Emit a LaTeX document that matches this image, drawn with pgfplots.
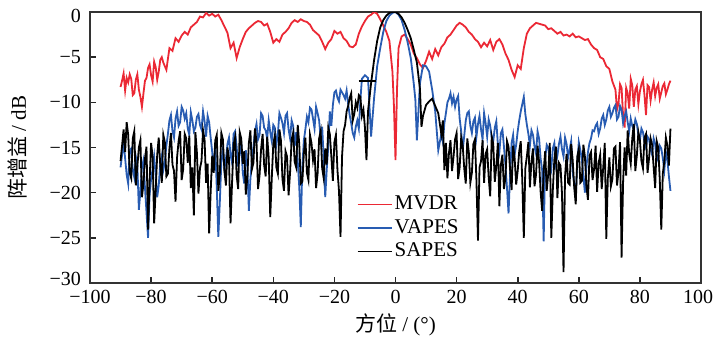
\documentclass[border=0pt]{standalone}
\usepackage{pgfplots}
\pgfplotsset{compat=1.18}
\usepackage{fontspec}
\setmainfont{Liberation Serif}
\newfontfamily\cjk{Noto Sans CJK SC}
\definecolor{mred}{RGB}{235,40,52}
\definecolor{mblue}{RGB}{40,92,178}
\begin{document}
\begin{tikzpicture}
\path[use as bounding box] (-45pt,-28pt) rectangle (311.5pt,141.5pt);
\begin{axis}[
 at={(0pt,0pt)}, anchor=south west,
 scale only axis, width=305.5pt, height=135.5pt,
 xmin=-100, xmax=100, ymin=-30, ymax=0,
 xtick={-100,-80,...,100}, ytick={-30,-25,...,0},
 xticklabels={−100,−80,−60,−40,−20,0,20,40,60,80,\makebox[12pt][r]{100}},
 yticklabels={\raisebox{2pt}[6.6pt][0pt]{−30},−25,−20,−15,−10,−5,\raisebox{-2pt}[6.6pt][0pt]{0}},
 tick align=inside, tick pos=left,
 major tick length=3pt,
 tick style={black!85, line width=0.8pt},
 axis line style={black!80, line width=0.8pt},
 ticklabel style={font=\fontsize{10}{12}\selectfont},
 xticklabel style={inner xsep=0pt},
 yticklabel style={xshift=-1pt},
 xlabel={{\cjk 方位} / (°)},
 ylabel={{\cjk 阵增益} / dB},
 label style={font=\fontsize{10.5}{12}\selectfont},
 xlabel style={at={(axis description cs:0.5,-0.155)}, anchor=center},
 ylabel style={at={(axis description cs:-0.118,0.5)}, anchor=center},
 legend style={draw=none, fill=none, inner sep=0pt, at={(axis cs:-12.8,-20.1)}, anchor=north west,
   font=\fontsize{10.5}{12}\selectfont, row sep=1.25pt,
   nodes={inner sep=1pt, text height=7pt, text depth=1.5pt}},
 legend cell align=left,
]
\addplot[mred, line width=0.9pt] coordinates {
(-90,-8.3) (-89.5,-7.6) (-89,-6.8) (-88.5,-8.7) (-88,-7.3) (-87.5,-7.8) (-87,-6.9) (-86.5,-7.4) (-86,-9.2) (-85.5,-9.0)
(-85,-7.5) (-84.5,-6.9) (-84,-8.6) (-83.5,-9.4) (-83,-10.5) (-82.5,-9.0) (-82,-7.6) (-81.5,-7.3) (-81,-6.2) (-80.5,-5.8)
(-80,-7.0) (-79.5,-7.7) (-79,-5.5) (-78.5,-6.1) (-78,-7.5) (-77.5,-6.6) (-77,-5.3) (-76.5,-5.0) (-76,-5.6) (-75.5,-6.0)
(-75,-6.4) (-74.5,-5.2) (-74,-4.0) (-73,-4.3) (-72,-2.9) (-71,-3.3)
(-70,-2.6) (-69,-2.2) (-68,-2.5) (-67,-1.7) (-66,-1.4) (-65,-1.1) (-64,-0.5) (-63,-0.6) (-62,-0.1) (-61,-0.4)
(-60,-0.2) (-59,-0.5) (-58,-0.3) (-57,-0.9) (-56,-1.6) (-55,-2.3) (-54,-4.0) (-53,-3.4) (-52,-5.1) (-51,-3.9)
(-50,-3.0) (-49,-2.2) (-48,-1.8) (-47,-1.5) (-46,-1.2) (-45,-1.0) (-44,-1.1) (-43,-1.5) (-42,-1.3) (-41,-2.2)
(-40,-3.4) (-39,-3.0) (-38,-3.3) (-37,-2.5) (-36,-2.2) (-35,-1.8) (-34,-1.2) (-33,-0.9) (-32,-1.1) (-31,-0.8)
(-30,-1.0) (-29,-1.1) (-28,-1.4) (-27,-2.0) (-26,-2.3) (-25,-2.6) (-24,-3.3) (-23,-4.1) (-22,-3.4) (-21,-3.0)
(-20,-2.1) (-19,-2.4) (-18,-2.2) (-17,-2.9) (-16,-3.2) (-15,-3.8) (-14,-3.9) (-13,-3.6) (-12,-2.4) (-11,-1.6)
(-10,-1.0) (-9,-0.5) (-8,-0.3) (-7,0.0) (-6,-0.2) (-5,-0.8) (-4,-1.5) (-3,-2.2) (-2,-3.2) (-1,-6.6)
(-0.5,-10.5) (0,-16.4) (0.5,-8.5) (1,-4.0) (2,-2.7) (3,-2.5) (4,-3.0) (5,-3.6) (6,-4.6) (7,-5.1)
(8,-5.8) (9,-6.2) (10,-5.4) (11,-4.4) (12,-5.2) (13,-4.1) (14,-4.8) (15,-3.9) (16,-3.5) (17,-2.8)
(18,-2.5) (19,-2.0) (20,-1.5) (21,-1.2) (22,-1.4) (23,-1.7) (24,-2.2) (25,-2.5) (26,-3.0) (27,-3.3)
(28,-3.9) (29,-3.4) (30,-3.8) (31,-3.1) (32,-4.2) (33,-3.3) (34,-3.0) (35,-3.6) (36,-4.6) (37,-5.3)
(38,-6.4) (39,-7.2) (40,-5.9) (41,-6.3) (42,-4.0) (43,-2.4) (44,-1.8) (45,-1.5) (46,-1.2) (47,-1.3)
(48,-1.4) (49,-1.5) (50,-1.9) (51,-1.8) (52,-2.1) (53,-2.4) (54,-2.2) (55,-2.6) (56,-2.5) (57,-2.7)
(58,-2.4) (59,-2.8) (60,-2.7) (61,-2.9) (62,-3.1) (63,-3.0) (64,-3.6) (65,-4.0) (66,-4.2) (67,-5.0)
(68,-5.2) (69,-6.0) (70,-6.3) (71,-7.7) (72,-8.6) (72.5,-10.8) (73,-10.1) (73.5,-8.0) (74,-8.4) (74.5,-11.5)
(75,-12.8) (75.5,-8.4) (76,-9.0) (76.5,-10.7) (77,-7.4) (77.5,-8.1) (78,-10.5) (78.5,-8.6) (79,-8.2) (79.5,-10.2)
(80,-8.8) (80.5,-8.0) (81,-7.5) (81.5,-9.2) (82,-11.4) (82.5,-8.1) (83,-8.3) (83.5,-9.8) (84,-8.6) (84.5,-7.8)
(85,-9.3) (85.5,-8.4) (86,-8.0) (86.5,-9.6) (87,-8.9) (87.5,-8.2) (88,-7.9) (88.5,-9.1) (89,-8.6) (89.5,-8.0) (90,-7.6)
};
\addlegendentry{MVDR}
\addplot[mblue, line width=0.9pt] coordinates {
(-90,-17.2) (-89.5,-15.8) (-89,-14.5) (-88.5,-16.2) (-88,-18.0) (-87.5,-19.0) (-87,-15.3) (-86.5,-15.1) (-86,-17.5) (-85.5,-18.3)
(-85,-16.0) (-84.5,-17.0) (-84,-21.9) (-83.5,-19.8) (-83,-17.2) (-82.5,-16.4) (-82,-19.5) (-81.5,-22.2) (-81,-25.0) (-80.5,-20.3)
(-80,-18.5) (-79.5,-17.4) (-79,-16.0) (-78.5,-18.1) (-78,-20.5) (-77.5,-19.2) (-77,-16.8) (-76.5,-15.9) (-76,-17.5) (-75.5,-16.6)
(-75,-14.8) (-74.5,-13.5) (-74,-12.0) (-73.5,-11.4) (-73,-13.2) (-72.5,-13.9) (-72,-11.8) (-71.5,-11.0) (-71,-12.6) (-70.5,-12.2)
(-70,-10.5) (-69.5,-10.9) (-69,-11.8) (-68.5,-11.2) (-68,-12.9) (-67.5,-13.6) (-67,-11.1) (-66.5,-12.0) (-66,-13.2) (-65.5,-12.8)
(-65,-11.6) (-64.5,-11.3) (-64,-12.5) (-63.5,-13.0) (-63,-11.0) (-62.5,-12.1) (-62,-13.8) (-61.5,-11.5) (-61,-12.2) (-60.5,-13.9)
(-60,-15.5) (-59.5,-17.6) (-59,-14.8) (-58.5,-19.5) (-58,-24.9) (-57.5,-21.0) (-57,-16.5) (-56.5,-15.2) (-56,-17.4) (-55.5,-16.3)
(-55,-14.6) (-54.5,-13.9) (-54,-15.8) (-53.5,-16.7) (-53,-13.5) (-52.5,-13.2) (-52,-14.9) (-51.5,-17.1) (-51,-15.6) (-50.5,-14.4)
(-50,-17.8) (-49.5,-19.0) (-49,-15.3) (-48.5,-16.9) (-48,-22.0) (-47.5,-18.5) (-47,-16.4) (-46.5,-14.9) (-46,-13.2) (-45.5,-12.4)
(-45,-14.1) (-44.5,-13.6) (-44,-11.2) (-43.5,-11.5) (-43,-12.8) (-42.5,-13.1) (-42,-14.0) (-41.5,-12.0) (-41,-13.3) (-40.5,-14.3)
(-40,-12.5) (-39.5,-12.8) (-39,-14.7) (-38.5,-13.5) (-38,-11.2) (-37.5,-11.7) (-37,-12.3) (-36.5,-13.4) (-36,-11.5) (-35.5,-11.2)
(-35,-13.0) (-34.5,-14.0) (-34,-12.0) (-33.5,-12.6) (-33,-14.8) (-32.5,-13.3) (-32,-16.5) (-31.5,-19.4) (-31,-23.8) (-30.5,-17.2)
(-30,-14.2) (-29.5,-13.0) (-29,-11.6) (-28.5,-12.2) (-28,-10.6) (-27.5,-10.8) (-27,-11.8) (-26.5,-12.9) (-26,-10.5) (-25.5,-11.2)
(-25,-12.0) (-24.5,-14.0) (-24,-12.7) (-23.5,-16.2) (-23,-20.5) (-22.5,-17.4) (-22,-14.8) (-21.5,-11.0) (-21,-12.6) (-20.5,-10.3)
(-20,-8.9) (-19.5,-8.7) (-19,-9.5) (-18.5,-9.9) (-18,-8.6) (-17.5,-8.9) (-17,-9.2) (-16.5,-9.6) (-16,-8.7) (-15.5,-10.2)
(-15,-11.4) (-14.5,-12.3) (-14,-13.4) (-13.5,-13.9) (-13,-12.7) (-12.5,-12.0) (-12,-12.9) (-11.5,-9.8) (-11,-7.4)
(-10,-7.0) (-9,-7.3) (-8,-13.8) (-7,-9.5) (-6,-6.0) (-5,-4.0) (-4,-2.2) (-3,-1.0) (-2,-0.4) (-1,-0.1)
(0,0.0) (1,-0.3) (2,-0.9) (3,-2.0) (4,-3.4) (5,-5.1) (6,-8.0) (6.5,-9.7) (7,-14.2) (8,-7.9)
(9,-5.9) (10,-6.0) (11,-6.6) (12,-8.6) (13,-11.0) (14,-15.3) (15,-13.5) (15.5,-14.4) (16,-12.3) (16.5,-11.2)
(17,-10.0) (17.5,-9.6) (18,-9.0) (18.5,-10.1) (19,-9.4) (19.5,-10.5) (20,-9.7) (20.5,-9.3) (21,-11.8) (21.5,-13.2)
(22,-15.3) (22.5,-13.7) (23,-12.0) (23.5,-11.2) (24,-11.0) (24.5,-12.6) (25,-13.4) (25.5,-12.1) (26,-11.7) (26.5,-13.8)
(27,-12.4) (27.5,-11.5) (28,-13.0) (28.5,-14.1) (29,-11.2) (29.5,-12.3) (30,-13.8) (30.5,-11.9) (31,-12.6) (31.5,-13.9)
(32,-14.3) (32.5,-12.8) (33,-12.1) (33.5,-14.6) (34,-15.5) (34.5,-13.4) (35,-13.0) (35.5,-14.9) (36,-17.0) (36.5,-19.5)
(37,-22.3) (37.5,-18.0) (38,-14.5) (38.5,-13.6) (39,-15.8) (39.5,-14.7) (40,-13.2) (40.5,-12.0) (41,-11.0) (41.5,-10.2)
(42,-9.4) (42.5,-11.3) (43,-12.5) (43.5,-13.5) (44,-14.8) (44.5,-13.1) (45,-13.6) (45.5,-14.9) (46,-15.7) (46.5,-13.2)
(47,-14.0) (47.5,-16.2) (48,-17.5) (48.5,-25.4) (49,-16.2) (49.5,-14.7) (50,-15.0) (50.5,-16.4) (51,-17.3) (51.5,-15.1)
(52,-14.5) (52.5,-16.8) (53,-15.9) (53.5,-14.6) (54,-13.8) (54.5,-15.2) (55,-16.0) (55.5,-13.9) (56,-14.6) (56.5,-16.1)
(57,-15.2) (57.5,-14.3) (58,-17.8) (58.5,-19.0) (59,-20.5) (59.5,-16.8) (60,-14.4) (60.5,-15.3) (61,-16.3) (61.5,-18.2)
(62,-20.0) (62.5,-17.1) (63,-15.5) (63.5,-14.5) (64,-14.0) (64.5,-13.1) (65,-13.2) (65.5,-12.6) (66,-12.3) (66.5,-13.5)
(67,-12.9) (67.5,-11.8) (68,-11.4) (68.5,-12.5) (69,-11.9) (69.5,-10.9) (70,-10.5) (70.5,-11.6) (71,-11.2) (71.5,-10.6)
(72,-10.3) (72.5,-11.9) (73,-11.6) (73.5,-10.4) (74,-10.8) (74.5,-12.3) (75,-11.5) (75.5,-11.0) (76,-12.2) (76.5,-13.2)
(77,-11.8) (77.5,-12.6) (78,-13.0) (78.5,-11.9) (79,-12.4) (79.5,-13.6) (80,-14.2) (80.5,-12.9) (81,-13.3) (81.5,-14.4)
(82,-15.0) (82.5,-13.8) (83,-14.1) (83.5,-15.2) (84,-15.8) (84.5,-14.0) (85,-14.6) (85.5,-16.5) (86,-16.0) (86.5,-14.8)
(87,-15.1) (87.5,-16.2) (88,-17.5) (88.5,-15.5) (89,-16.4) (89.5,-18.2) (90,-19.8)
};
\addlegendentry{VAPES}
\addplot[black, line width=0.9pt] coordinates {
(-90,-16.5) (-89.5,-14.8) (-89,-13.0) (-88.5,-15.5) (-88,-12.2) (-87.5,-13.6) (-87,-17.8) (-86.5,-18.4) (-86,-14.0) (-85.5,-13.2)
(-85,-19.2) (-84.5,-17.1) (-84,-15.0) (-83.5,-14.2) (-83,-20.5) (-82.5,-19.0) (-82,-16.2) (-81.5,-14.9) (-81,-24.1) (-80.5,-18.8)
(-80,-14.5) (-79.5,-16.0) (-79,-23.4) (-78.5,-19.7) (-78,-15.8) (-77.5,-13.9) (-77,-17.0) (-76.5,-18.9) (-76,-13.6) (-75.5,-14.4)
(-75,-18.2) (-74.5,-17.9) (-74,-15.1) (-73.5,-13.4) (-73,-16.9) (-72.5,-17.6) (-72,-21.0) (-71.5,-16.1) (-71,-14.3) (-70.5,-13.2)
(-70,-18.6) (-69.5,-17.4) (-69,-13.5) (-68.5,-14.0) (-68,-16.7) (-67.5,-13.7) (-67,-19.5) (-66.5,-17.2) (-66,-22.5) (-65.5,-13.3)
(-65,-15.6) (-64.5,-20.1) (-64,-17.3) (-63.5,-16.5) (-63,-13.1) (-62.5,-14.1) (-62,-18.9) (-61.5,-16.8) (-61,-24.5) (-60.5,-19.9)
(-60,-15.9) (-59.5,-17.8) (-59,-14.2) (-58.5,-13.6) (-58,-19.8) (-57.5,-17.9) (-57,-13.4) (-56.5,-14.1) (-56,-17.6) (-55.5,-19.2)
(-55,-15.0) (-54.5,-16.2) (-54,-23.4) (-53.5,-18.9) (-53,-14.7) (-52.5,-13.9) (-52,-18.1) (-51.5,-19.6) (-51,-13.3) (-50.5,-14.0)
(-50,-16.8) (-49.5,-15.4) (-49,-20.2) (-48.5,-18.3) (-48,-14.5) (-47.5,-13.1) (-47,-17.4) (-46.5,-16.7) (-46,-12.9) (-45.5,-14.3)
(-45,-19.6) (-44.5,-18.1) (-44,-15.2) (-43.5,-13.5) (-43,-16.9) (-42.5,-18.2) (-42,-13.8) (-41.5,-16.1) (-41,-22.7) (-40.5,-18.4)
(-40,-14.6) (-39.5,-13.7) (-39,-17.2) (-38.5,-17.9) (-38,-13.0) (-37.5,-14.2) (-37,-18.5) (-36.5,-19.8) (-36,-15.4) (-35.5,-16.0)
(-35,-20.3) (-34.5,-17.7) (-34,-14.1) (-33.5,-13.4) (-33,-16.6) (-32.5,-17.2) (-32,-12.5) (-31.5,-14.6) (-31,-19.0) (-30.5,-18.8)
(-30,-15.7) (-29.5,-13.9) (-29,-17.8) (-28.5,-18.6) (-28,-13.6) (-27.5,-14.5) (-27,-16.4) (-26.5,-15.2) (-26,-19.5) (-25.5,-17.9)
(-25,-14.0) (-24.5,-13.2) (-24,-17.3) (-23.5,-18.4) (-23,-15.1) (-22.5,-16.9) (-22,-12.8) (-21.5,-13.5) (-21,-16.0) (-20.5,-18.7)
(-20,-14.4) (-19.5,-13.6) (-19,-17.5) (-18.5,-19.8) (-18,-24.9) (-17.5,-16.0) (-17,-13.2) (-16.5,-12.5) (-16,-11.0) (-15.5,-10.4)
(-15,-9.5) (-14.5,-9.0) (-14,-12.0) (-13.5,-11.3) (-13,-10.0) (-12.5,-10.6) (-12,-9.2) (-11.5,-9.4) (-11,-11.5) (-10.5,-10.8)
(-10,-12.8) (-9.5,-16.4) (-9,-11.0) (-8,-7.9) (-7,-5.3) (-6,-3.2) (-5,-1.7) (-4,-0.9) (-3,-0.4) (-2,-0.1)
(-1,0.0) (0,0.0) (1,-0.2) (2,-0.6) (3,-1.2) (4,-2.0) (5,-2.9) (6,-4.2) (7,-5.6) (8,-8.5)
(8.5,-12.7) (9,-11.5) (10,-10.3) (11,-9.9) (12,-9.6) (13,-10.4) (14,-11.2) (15,-13.5) (15.5,-12.0) (16,-17.5)
(16.5,-14.5) (17,-18.4) (17.5,-15.6) (18,-14.2) (18.5,-17.6) (19,-16.0) (19.5,-14.1) (20,-13.4) (20.5,-18.5) (21,-17.2)
(21.5,-13.9) (22,-14.8) (22.5,-17.3) (23,-19.0) (23.5,-14.0) (24,-15.5) (24.5,-18.9) (25,-17.8) (25.5,-14.6) (26,-14.1)
(26.5,-18.7) (27,-25.3) (27.5,-17.2) (28,-16.5) (28.5,-14.2) (29,-18.9) (29.5,-15.7) (30,-15.2) (30.5,-18.3) (31,-20.4)
(31.5,-13.8) (32,-14.6) (32.5,-18.8) (33,-17.1) (33.5,-14.5) (34,-21.5) (34.5,-16.9) (35,-15.8) (35.5,-19.6) (36,-18.3)
(36.5,-14.3) (37,-14.9) (37.5,-17.4) (38,-19.7) (38.5,-14.8) (39,-16.2) (39.5,-19.1) (40,-17.6) (40.5,-15.4) (41,-14.3)
(41.5,-18.6) (42,-25.0) (42.5,-17.3) (43,-16.0) (43.5,-14.4) (44,-19.4) (44.5,-16.6) (45,-15.1) (45.5,-19.3) (46,-18.0)
(46.5,-14.8) (47,-16.6) (47.5,-19.9) (48,-22.0) (48.5,-17.6) (49,-15.4) (49.5,-19.8) (50,-17.9) (50.5,-14.5) (51,-25.0)
(51.5,-19.7) (52,-16.3) (52.5,-14.9) (53,-20.6) (53.5,-16.7) (54,-17.0) (54.5,-20.1) (55,-28.8) (55.5,-18.2) (56,-15.7)
(56.5,-18.9) (57,-19.1) (57.5,-14.6) (58,-16.4) (58.5,-19.4) (59,-21.3) (59.5,-16.0) (60,-15.2) (60.5,-18.9) (61,-18.7)
(61.5,-14.7) (62,-16.0) (62.5,-19.3) (63,-20.8) (63.5,-15.9) (64,-15.5) (64.5,-18.6) (65,-17.4) (65.5,-14.8) (66,-19.9)
(66.5,-16.7) (67,-15.8) (67.5,-19.6) (68,-17.2) (68.5,-14.5) (69,-25.1) (69.5,-18.4) (70,-16.1) (70.5,-19.3) (71,-18.5)
(71.5,-15.1) (72,-14.9) (72.5,-19.2) (73,-17.7) (73.5,-14.4) (74,-27.2) (74.5,-18.8) (75,-15.0) (75.5,-18.1) (76,-13.1)
(76.5,-15.7) (77,-16.8) (77.5,-14.0) (78,-12.4) (78.5,-17.6) (79,-15.9) (79.5,-13.3) (80,-14.2) (80.5,-16.5) (81,-17.3)
(81.5,-13.9) (82,-13.5) (82.5,-17.8) (83,-16.2) (83.5,-14.0) (84,-14.7) (84.5,-17.2) (85,-19.5) (85.5,-14.3) (86,-15.0)
(86.5,-18.5) (87,-24.1) (87.5,-17.9) (88,-16.5) (88.5,-13.9) (89,-14.8) (89.5,-17.0) (90,-12.9)
};
\addlegendentry{SAPES}
\addplot[black, line width=0.9pt, forget plot] coordinates {(-12.1,-7.6) (-6.5,-7.6)};
\end{axis}
\end{tikzpicture}
\end{document}
